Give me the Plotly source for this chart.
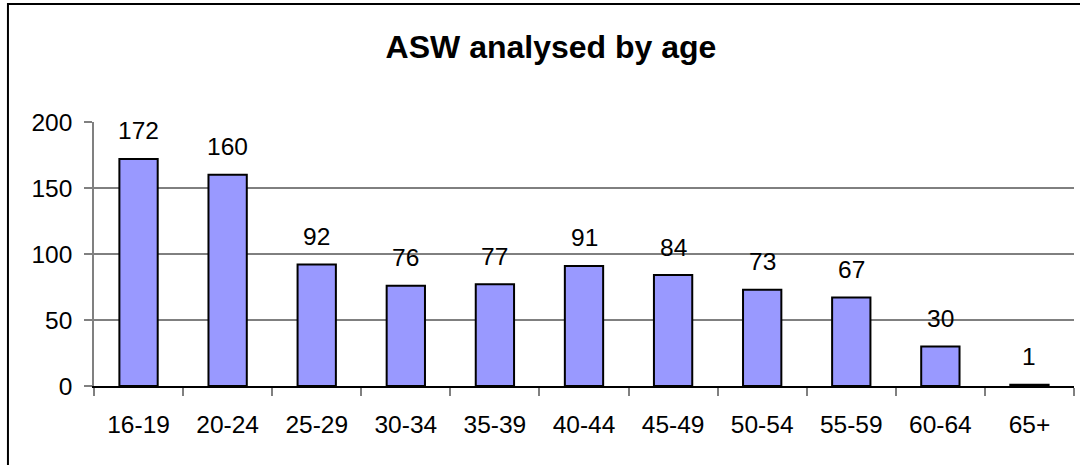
import plotly.graph_objects as go

categories = ["16-19", "20-24", "25-29", "30-34", "35-39", "40-44", "45-49", "50-54", "55-59", "60-64", "65+"]
values = [172, 160, 92, 76, 77, 91, 84, 73, 67, 30, 1]
y_ticks = [0, 50, 100, 150, 200]
grid_values = [50, 100, 150]
title_text = "ASW analysed by age"

FONT = "Arial, Liberation Sans, sans-serif"
FS = 24.5

fig = go.Figure()
fig.add_trace(go.Bar(
    x=categories, y=values,
    marker=dict(color="#9999FF", line=dict(color="black", width=2)),
    hoverinfo="x+y",
))

for c, v in zip(categories, values):
    fig.add_annotation(x=c, y=v, text=str(v), showarrow=False,
                       yshift=28, yanchor="middle",
                       font=dict(family=FONT, size=FS, color="black"))

for g in grid_values:
    fig.add_shape(type="line", xref="paper", x0=0, x1=1, yref="y", y0=g, y1=g,
                  line=dict(color="black", width=1), layer="below")

# outer chart border
fig.add_shape(type="rect", xref="paper", yref="paper",
              x0=-0.0878, x1=1.2, y0=-0.6, y1=1.447,
              line=dict(color="black", width=2), layer="above")

fig.update_layout(
    width=1080, height=465,
    margin=dict(l=94, r=6, t=122, b=79),
    paper_bgcolor="white", plot_bgcolor="white",
    bargap=0.57,
    showlegend=False,
    font=dict(family=FONT, size=FS, color="black"),
    title=dict(text="<b>" + title_text + "</b>", x=551 / 1080, xref="container", xanchor="center",
               y=1 - 47 / 465, yanchor="middle", yref="container",
               font=dict(family=FONT, size=32, color="black")),
    xaxis=dict(showline=True, linecolor="black", linewidth=1.5,
               ticks="outside", ticklen=8, tickcolor="#808080", tickwidth=1.5,
               tickson="boundaries", showgrid=False, ticklabelstandoff=16,
               tickfont=dict(family=FONT, size=FS)),
    yaxis=dict(range=[0, 200], tickvals=y_ticks, showline=True, linecolor="#808080", linewidth=1.5,
               ticks="outside", ticklen=8, tickcolor="#808080", tickwidth=1.5,
               showgrid=False, zeroline=False, ticklabelstandoff=7,
               tickfont=dict(family=FONT, size=FS)),
)

fig.write_html("out.html", config={"displayModeBar": False},
               post_script="document.body.style.margin='0';document.body.style.overflow='hidden';")
